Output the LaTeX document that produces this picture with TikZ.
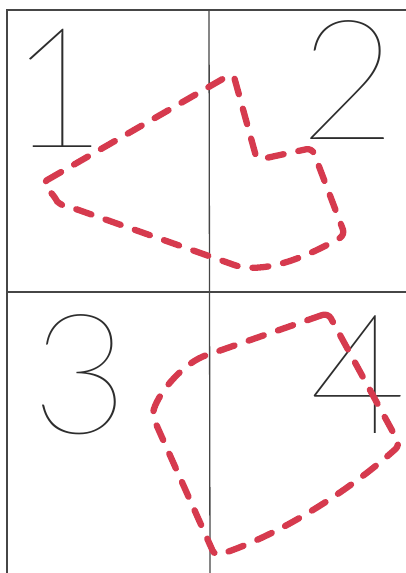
\documentclass[tikz,border=0pt]{standalone}
\usepackage{fontspec}
\newfontfamily\digitfont{Lato Hairline}
\definecolor{redline}{RGB}{214,58,78}
\definecolor{gridline}{RGB}{70,70,70}
\definecolor{digitcol}{RGB}{45,45,45}
\begin{document}
\begin{tikzpicture}[x=1pt,y=-1pt,
  gridstroke/.style={draw=gridline,line width=1.3pt},
  redpath/.style={draw=redline,line width=6.3pt,line cap=round,line join=round,dash pattern=on 16pt off 15pt,rounded corners=6pt},
  digit/.style={inner sep=0pt,text=digitcol,font=\digitfont\fontsize{168}{168}\selectfont}]
\useasboundingbox (0,0) rectangle (406,573);
\fill[white] (0,0) rectangle (406,573);
% grid
\draw[gridstroke] (7,573) -- (7,10) -- (406,10);
\draw[gridstroke] (209,10) -- (210,573);
\draw[gridstroke] (7,292) -- (406,292);
% digits
\node[digit] (d1) at (58,88) {1};
\node[digit] (d2) at (348,80) {2};
\node[digit] (d3) at (80,375) {3};
\node[digit] (d4) at (358,375) {4};
% upper red polygon
\draw[redpath] (42,183) -- (233,73) -- (257,160) -- (312,148) -- (345,235)
  .. controls (310,255) and (275,270) .. (240,267)
  -- (73,208) .. controls (62,206) and (57,201) .. (55,197) -- cycle;
% lower red polygon
\draw[redpath] (328,313) -- (213,353) .. controls (185,362) and (160,390) .. (152,415)
  -- (215,556) .. controls (280,535) and (350,490) .. (400,445) -- cycle;
\end{tikzpicture}
\end{document}
